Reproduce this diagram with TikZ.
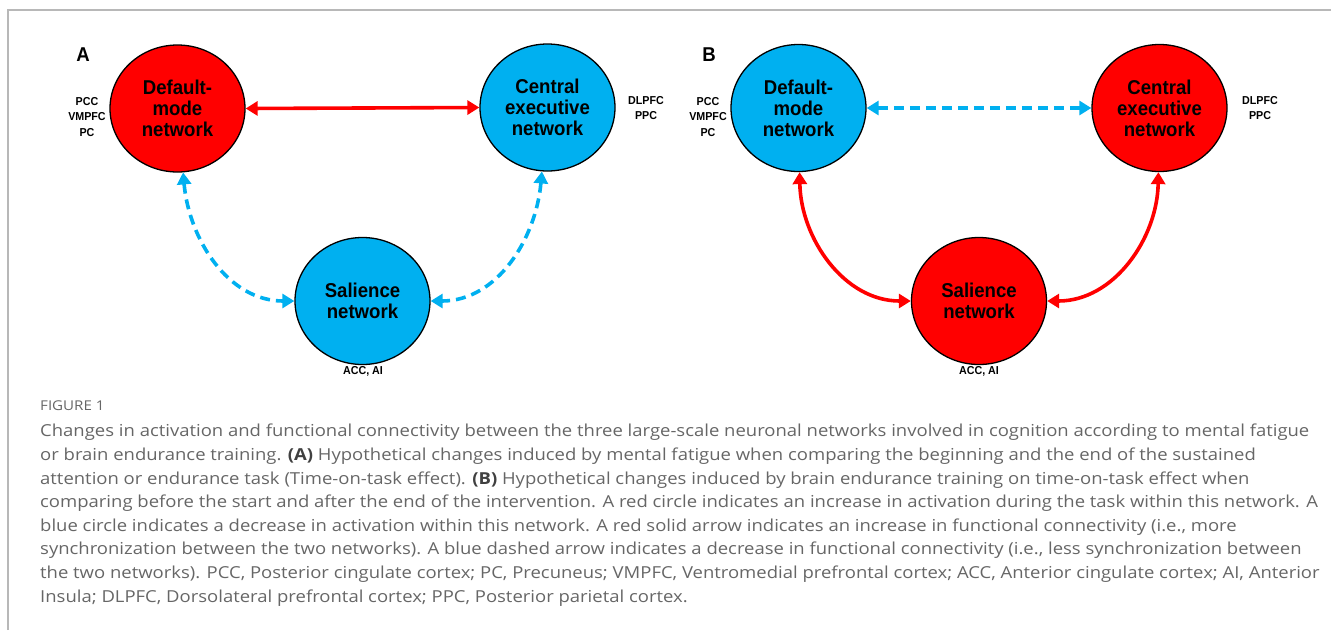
\documentclass[tikz,border=0pt]{standalone}
\usepackage{fontspec}
\setmainfont{Liberation Sans}[FakeStretch=0.93]
\newfontfamily\capfont{Open Sans}[FakeStretch=1.12]
\usetikzlibrary{arrows.meta,shapes.geometric}
\definecolor{netred}{HTML}{FF0000}
\definecolor{netblue}{HTML}{00B0F0}
\definecolor{capgray}{HTML}{666666}
\definecolor{capdark}{HTML}{404040}
\definecolor{framegray}{HTML}{B8B8B8}
\begin{document}
\begin{tikzpicture}[x=1pt,y=1pt,
  net/.style={ellipse, draw=black, line width=1.3pt, minimum width=135pt, minimum height=127pt,
    inner sep=0pt, align=center, font=\bfseries\fontsize{20}{21}\selectfont},
  red net/.style={net, fill=netred},
  blue net/.style={net, fill=netblue},
  region/.style={align=center, inner sep=0pt, font=\bfseries\fontsize{11.5}{15.5}\selectfont},
  panel/.style={inner sep=0pt, font=\bfseries\fontsize{20}{24}\selectfont},
  tips/.style={{Triangle[length=12pt,width=14pt]}-{Triangle[length=12pt,width=14pt]}},
  up link/.style={draw=netred, line width=3.6pt, tips},
  down link/.style={draw=netblue, line width=3.6pt, dash pattern=on 10pt off 6pt, tips},
  caption/.style={anchor=north west, inner sep=0pt, align=left, text=capgray,
    font=\capfont\fontsize{16.5}{23.6}\selectfont},
]
\useasboundingbox (0,0) rectangle (1331,-630);
\draw[framegray, line width=2pt] (8,-630) -- (8,-10) -- (1331,-10);

% Panel A
\node[panel] (labA) at (83,-55) {A};
\node[red net] (dmnA) at (177.5,-108.5) {Default-\\mode\\network};
\node[blue net] (cenA) at (547.5,-107.5) {Central\\executive\\network};
\node[blue net] (snA) at (362.5,-301) {Salience\\network};
\node[region] (regDA) at (87,-117) {PCC\\VMPFC\\PC};
\node[region] (regCA) at (646,-108) {DLPFC\\PPC};
\node[region] (regSA) at (363,-371) {ACC, AI};
\draw[up link] (dmnA.east) -- (cenA.west);
\draw[down link] (dmnA.-85) to[out=-85,in=180] (snA.west);
\draw[down link] (cenA.-95) to[out=-95,in=0] (snA.east);

% Panel B
\node[panel] (labB) at (709,-55) {B};
\node[blue net] (dmnB) at (798.5,-108) {Default-\\mode\\network};
\node[red net] (cenB) at (1159.5,-108) {Central\\executive\\network};
\node[red net] (snB) at (979,-301) {Salience\\network};
\node[region] (regDB) at (708,-117) {PCC\\VMPFC\\PC};
\node[region] (regCB) at (1260,-108) {DLPFC\\PPC};
\node[region] (regSB) at (979,-371) {ACC, AI};
\draw[down link] (dmnB.east) -- (cenB.west);
\draw[up link] (dmnB.-89) to[out=-89,in=180] (snB.west);
\draw[up link] (cenB.-91) to[out=-91,in=0] (snB.east);

% Caption
\node[anchor=north west, inner sep=0pt, text=capgray, font=\capfont\fontsize{13.5}{16}\selectfont] (figlabel) at (40,-401) {FIGURE 1};
\node[caption] (captext) at (40,-424) {Changes in activation and functional connectivity between the three large-scale neuronal networks involved in cognition according to mental fatigue\\
or brain endurance training. {\color{capdark}\bfseries(A)} Hypothetical changes induced by mental fatigue when comparing the beginning and the end of the sustained\\
attention or endurance task (Time-on-task effect). {\color{capdark}\bfseries(B)} Hypothetical changes induced by brain endurance training on time-on-task effect when\\
comparing before the start and after the end of the intervention. A red circle indicates an increase in activation during the task within this network. A\\
blue circle indicates a decrease in activation within this network. A red solid arrow indicates an increase in functional connectivity (i.e., more\\
synchronization between the two networks). A blue dashed arrow indicates a decrease in functional connectivity (i.e., less synchronization between\\
the two networks). PCC, Posterior cingulate cortex; PC, Precuneus; VMPFC, Ventromedial prefrontal cortex; ACC, Anterior cingulate cortex; AI, Anterior\\
Insula; DLPFC, Dorsolateral prefrontal cortex; PPC, Posterior parietal cortex.};
\end{tikzpicture}
\end{document}
